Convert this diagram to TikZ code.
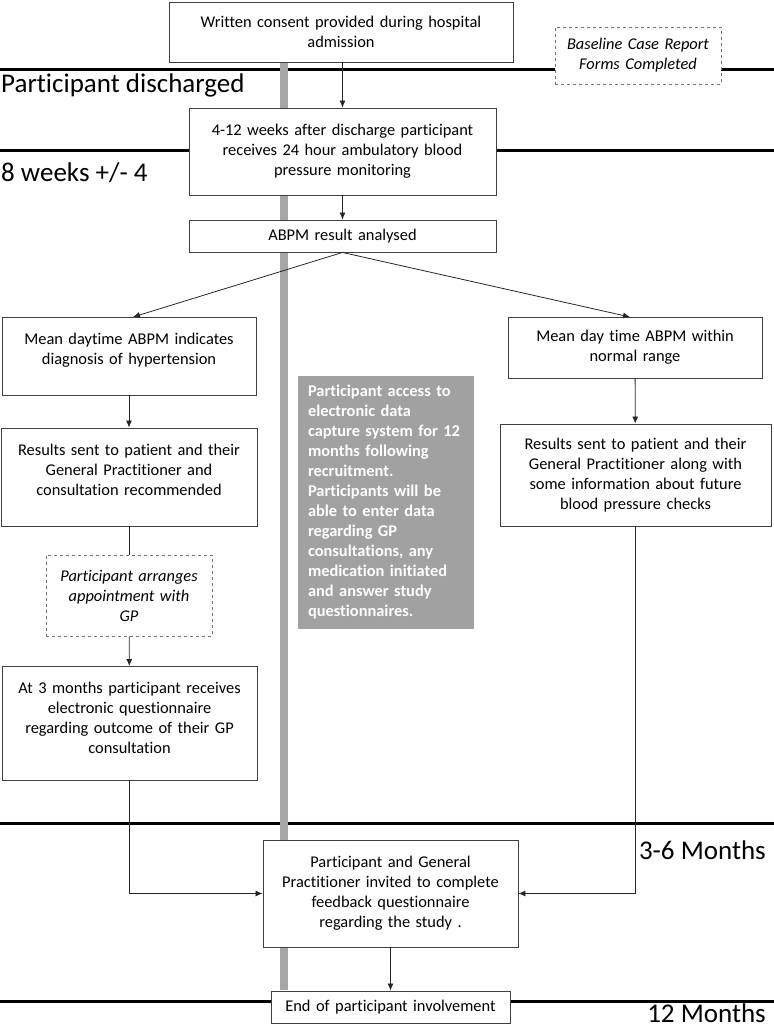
\documentclass[tikz,border=0pt]{standalone}
\usepackage{fontspec}
\setmainfont{Carlito}[Ligatures=NoCommon]
\usetikzlibrary{arrows.meta}

\begin{document}
\begin{tikzpicture}[x=1pt, y=-1pt]

      \tikzset{box/.style={draw=black!75, line width=0.9pt, fill=white, align=center, inner xsep=3pt,
                 font=\fontsize{16.4}{20}\selectfont},
               topbox/.style={box, inner ysep=0pt, text height=27pt, text depth=#1},
               dashbox/.style={box, draw=black!55, dashed, font=\fontsize{16.4}{20}\selectfont\itshape},
               infobox/.style={fill=black!37, text=white, align=left, inner xsep=10pt,
                 font=\fontsize{16.4}{20}\selectfont\bfseries},
               timeline/.style={line width=3pt, black},
               period/.style={font=\fontsize{27}{30}\selectfont},
               flow/.style={->, > = {Latex[length=7pt, width=6pt]}, line width=0.8pt, black!85}}
      \useasboundingbox (0,0) rectangle (774,1034);
%% Time lines
      	\draw[timeline] (0,69) -- (774,69);
      	\draw[timeline] (0,150) -- (774,150);
      	\draw[timeline] (0,823) -- (774,823);
      	\draw[timeline] (0,1001) -- (774,1001);
      	\node[period, anchor=west, inner sep=0pt] (discharged) at (1,85) {Participant discharged};
      	\node[period, anchor=west, inner sep=0pt] (weeks) at (1,173) {8 weeks +/- 4};
      	\node[period, anchor=east, inner sep=0pt] (months36) at (766,850) {3-6 Months};
      	\node[period, anchor=east, inner sep=0pt] (months12) at (766,1013) {12 Months};
%% Study period bar
      	\draw[line width=8pt, black!35] (284,62) -- (284,990);
%% Boxes
      	\node[box, text width=338pt, minimum height=60pt] (consent) at (341,32)
      		{Written consent provided during hospital\\admission};
      	\node[dashbox, text width=160pt, minimum height=57pt] (baseline) at (638,55.5)
      		{Baseline Case Report\\Forms Completed};
      	\node[box, text width=301pt, minimum height=87pt] (abpm) at (342.5,151.5)
      		{4-12 weeks after discharge participant\\receives 24 hour ambulatory blood\\pressure monitoring};
      	\node[box, text width=301pt, minimum height=32pt] (result) at (342.5,236) {ABPM result analysed};
      	\node[topbox=51pt, text width=248pt] (hyper) at (129,356)
      		{Mean daytime ABPM indicates\\diagnosis of hypertension};
      	\node[box, text width=248pt, minimum height=61pt] (normal) at (635,347.5)
      		{Mean day time ABPM within\\normal range};
      	\node[topbox=71pt, text width=250pt] (sentgp) at (129,477)
      		{Results sent to patient and their\\General Practitioner and\\consultation recommended};
      	\node[box, text width=265pt, minimum height=102pt] (sentinfo) at (635.5,475)
      		{Results sent to patient and their\\General Practitioner along with\\some information about future\\blood pressure checks};
      	\node[dashbox, text width=160pt, minimum height=81pt] (arranges) at (129,595.5)
      		{Participant arranges\\appointment with\\GP};
      	\node[infobox, text width=156pt, minimum height=253pt] (access) at (386,502.5)
      		{Participant access to\\electronic data\\capture system for 12\\months following\\recruitment.\\Participants will be\\able to enter data\\regarding GP\\consultations, any\\medication initiated\\and answer study\\questionnaires.};
      	\node[topbox=87pt, text width=249pt] (outcome) at (129.5,723.5)
      		{At 3 months participant receives\\electronic questionnaire\\regarding outcome of their GP\\consultation};
      	\node[box, text width=249pt, minimum height=107pt] (feedback) at (390.5,893.5)
      		{Participant and General\\Practitioner invited to complete\\feedback questionnaire\\regarding the study .};
      	\node[box, text width=233pt, minimum height=32pt] (end) at (390.5,1007) {End of participant involvement};
%Edges
		\draw[flow] (abpm.north |- consent.south) -- (abpm);
		\draw[flow] (abpm) -- (result);
		\draw[flow] (result.south) -- (133,317);
		\draw[flow] (result.south) -- (630,317);
		\draw[flow] (hyper) -- (sentgp);
		\draw[flow, -] (sentgp) -- (arranges);
		\draw[flow] (arranges) -- (outcome);
		\draw[flow] (normal) -- (sentinfo);
		\draw[flow] (outcome) |- (feedback);
		\draw[flow] (sentinfo) |- (feedback);
		\draw[flow] (feedback) -- (end);

	\end{tikzpicture}
\end{document}
